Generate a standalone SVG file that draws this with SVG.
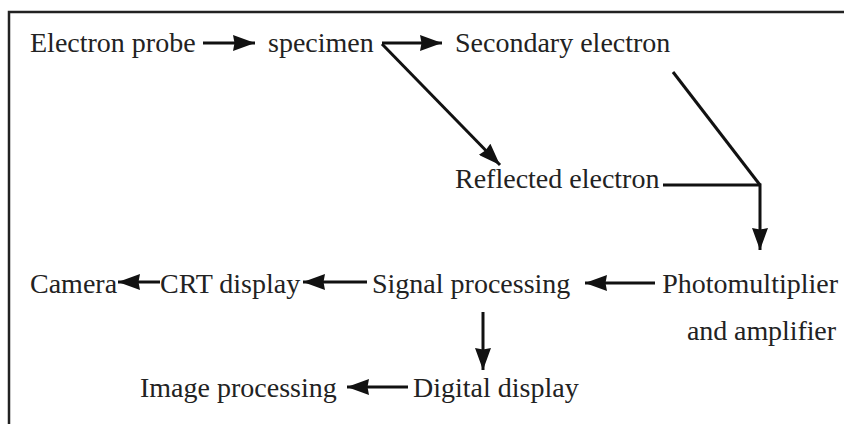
<svg xmlns="http://www.w3.org/2000/svg" width="844" height="424" viewBox="0 0 844 424">
<style>
.t{font-family:"Liberation Serif","Times New Roman",serif;font-size:28px;fill:#222}
.c{fill:none;stroke:#111;stroke-width:3}
.b{fill:none;stroke:#222;stroke-width:2.5}
</style>
<defs>
<marker id="ah" viewBox="0 0 22 16" refX="22" refY="8" markerWidth="22" markerHeight="16" markerUnits="userSpaceOnUse" orient="auto">
<path d="M0,0 L22,8 L0,16 L1.5,8 z" fill="#111"/>
</marker>
</defs>
<rect width="844" height="424" fill="#fff"/>
<path class="b" d="M9,424 V12 H844"/>
<g id="n-probe"><text class="t" x="30" y="52">Electron probe</text></g>
<g id="n-specimen"><text class="t" x="268" y="52">specimen</text></g>
<g id="n-secondary"><text class="t" x="455" y="52">Secondary electron</text></g>
<g id="n-reflected"><text class="t" x="455" y="188">Reflected electron</text></g>
<g id="n-photo"><text class="t" x="838" y="293" text-anchor="end">Photomultiplier</text><text class="t" x="836" y="340" text-anchor="end" textLength="149">and amplifier</text></g>
<g id="n-signal"><text class="t" x="372" y="293">Signal processing</text></g>
<g id="n-crt"><text class="t" x="160" y="293">CRT display</text></g>
<g id="n-camera"><text class="t" x="30" y="293">Camera</text></g>
<g id="n-digital"><text class="t" x="413" y="397">Digital display</text></g>
<g id="n-image"><text class="t" x="140" y="397">Image processing</text></g>
<g id="connectors">
<path class="c" d="M203,43 H255" marker-end="url(#ah)"/>
<path class="c" d="M382,43 H442" marker-end="url(#ah)"/>
<path class="c" d="M382,44 L500,165" marker-end="url(#ah)"/>
<path class="c" d="M673,72 L760,185"/>
<path class="c" d="M663,185 H760 V250" marker-end="url(#ah)"/>
<path class="c" d="M655,283 H585" marker-end="url(#ah)"/>
<path class="c" d="M367,282 H303" marker-end="url(#ah)"/>
<path class="c" d="M160,282 H118" marker-end="url(#ah)"/>
<path class="c" d="M483,312 V370" marker-end="url(#ah)"/>
<path class="c" d="M408,387 H347" marker-end="url(#ah)"/>
</g>
</svg>
